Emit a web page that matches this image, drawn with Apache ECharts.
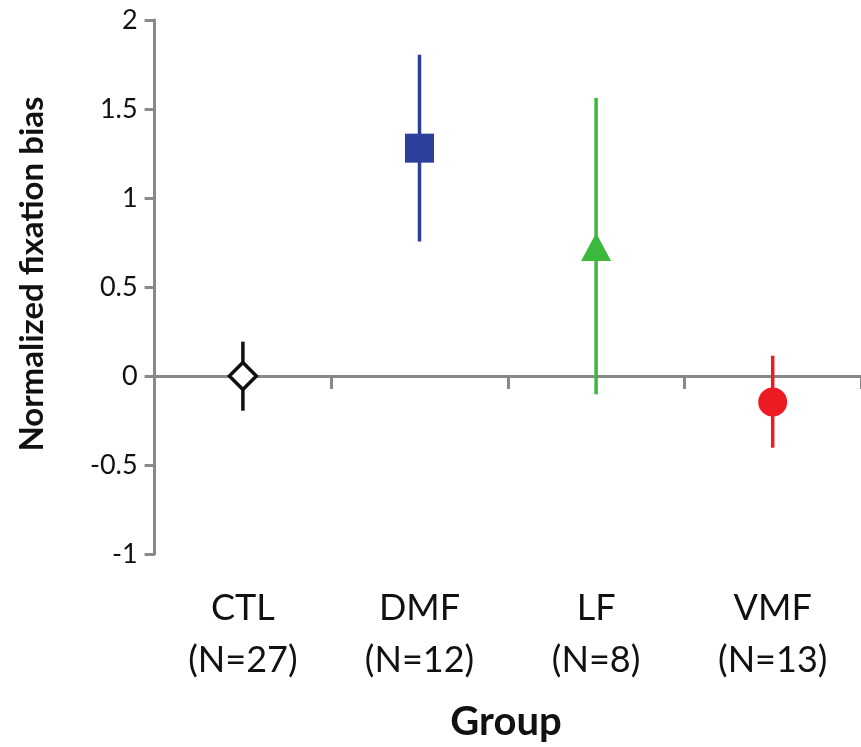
<!DOCTYPE html>
<html>
<head>
<meta charset="utf-8">
<script src="https://cdn.jsdelivr.net/npm/echarts@6/dist/echarts.min.js"></script>
<style>
html,body{margin:0;padding:0;background:#fff;}
#chart{width:861px;height:747px;}
</style>
</head>
<body>
<div id="chart"></div>
<script>
// ---- data ----
var categories = ['CTL', 'DMF', 'LF', 'VMF'];
var groupSizes = ['(N=27)', '(N=12)', '(N=8)', '(N=13)'];
var means = [0, 1.28, 0.725, -0.146];
var upperBounds = [0.193, 1.805, 1.562, 0.114];
var lowerBounds = [-0.195, 0.755, -0.103, -0.403];
var yTicks = [-1, -0.5, 0, 0.5, 1, 1.5, 2];

// ---- styles ----
var colors = ['#111111', '#2b3f9b', '#3cb83c', '#ed1c24'];
var symbols = ['diamond', 'rect', 'triangle', 'circle'];
var symbolSizes = [[27, 27], [29, 29], [30, 28], [29, 29]];
var fills = ['#ffffff', '#2b3f9b', '#3cb83c', '#ed1c24'];
var axisGray = '#898989';
var FONT = 'Lato';

var chart = echarts.init(document.getElementById('chart'));

var labelData = categories.map(function (c, i) { return c + '\n' + groupSizes[i]; });

var option = {
  backgroundColor: '#ffffff',
  animation: false,
  grid: { left: 154.6, top: 20, width: 712, height: 534, containLabel: false },
  xAxis: [
    {
      type: 'category',
      data: categories,
      boundaryGap: true,
      axisLine: { show: true, onZero: true, lineStyle: { color: axisGray, width: 3 } },
      axisTick: { show: true, inside: false, length: 13, interval: 0, lineStyle: { color: axisGray, width: 3 } },
      axisLabel: { show: false },
      splitLine: { show: false }
    },
    {
      type: 'category',
      data: labelData,
      position: 'bottom',
      boundaryGap: true,
      axisLine: { show: false, onZero: false },
      axisTick: { show: false },
      axisLabel: {
        show: true, interval: 0, margin: 28,
        fontFamily: FONT, fontSize: 36, color: '#111111', lineHeight: 52
      },
      splitLine: { show: false }
    }
  ],
  yAxis: {
    type: 'value',
    min: yTicks[0],
    max: yTicks[yTicks.length - 1],
    interval: 0.5,
    axisLine: { show: true, lineStyle: { color: axisGray, width: 3 } },
    axisTick: { show: true, inside: false, length: 10, lineStyle: { color: axisGray, width: 3 } },
    axisLabel: { margin: 17, fontFamily: FONT, fontSize: 27, color: '#111111' },
    splitLine: { show: false }
  },
  graphic: [
    {
      type: 'text', x: 32, y: 274, rotation: Math.PI / 2,
      style: { text: 'Normalized fixation bias', align: 'center', verticalAlign: 'middle',
               font: 'bold 33px ' + FONT, fill: '#111111' }
    },
    {
      type: 'text', x: 506, y: 722,
      style: { text: 'Group', align: 'center', verticalAlign: 'middle',
               font: 'bold 40px ' + FONT, fill: '#111111' }
    }
  ],
  series: [
    {
      type: 'custom',
      xAxisIndex: 0,
      data: categories.map(function (c, i) { return [i, lowerBounds[i], upperBounds[i]]; }),
      renderItem: function (params, api) {
        var x = api.value(0);
        var lo = api.coord([x, api.value(1)]);
        var hi = api.coord([x, api.value(2)]);
        return {
          type: 'line',
          shape: { x1: lo[0], y1: lo[1], x2: hi[0], y2: hi[1] },
          style: { stroke: colors[params.dataIndex], lineWidth: 3.5 }
        };
      },
      z: 2
    },
    {
      type: 'scatter',
      xAxisIndex: 0,
      z: 3,
      data: categories.map(function (c, i) {
        return {
          value: [i, means[i]],
          symbol: symbols[i],
          symbolSize: symbolSizes[i],
          itemStyle: {
            color: fills[i],
            opacity: 1,
            borderColor: colors[i],
            borderWidth: i === 0 ? 3.5 : 0
          }
        };
      })
    }
  ]
};
chart.setOption(option);
</script>
</body>
</html>
